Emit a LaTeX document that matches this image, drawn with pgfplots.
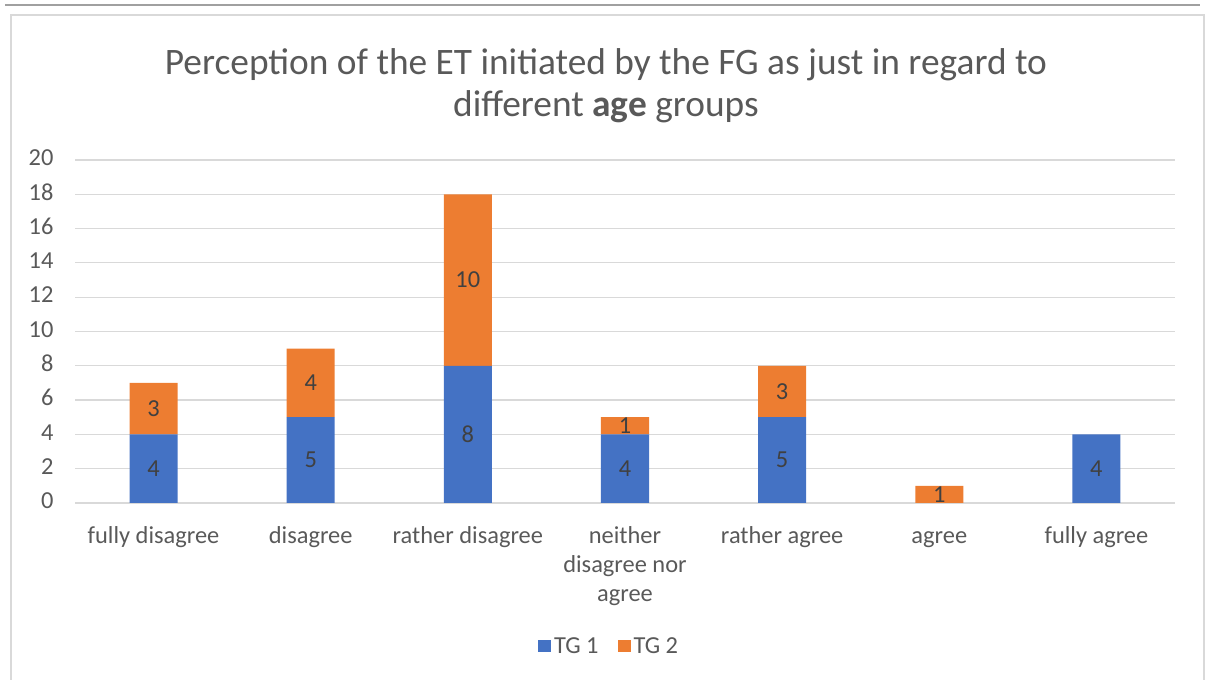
\documentclass[border=0pt]{standalone}
\usepackage{pgfplots}
\pgfplotsset{compat=1.18}
\usepackage{pgfplotstable}
\usepackage{fontspec}
\setmainfont{Carlito}
\definecolor{tgblue}{RGB}{68,114,196}
\definecolor{tgorange}{RGB}{237,125,49}
\definecolor{gridgray}{RGB}{217,217,217}
\definecolor{framegray}{RGB}{160,160,160}
\definecolor{txtgray}{RGB}{89,89,89}
\definecolor{lblgray}{RGB}{64,64,64}
\pgfplotstableread{
x tg1 tg2
0 4 3
1 5 4
2 8 10
3 4 1
4 5 3
5 0 1
6 4 0
}\datatable
\begin{document}
\begin{tikzpicture}
\path[use as bounding box] (0,0) rectangle (1210bp,680bp);
\draw[framegray, line width=2.5bp] (5bp,675bp)--(1200bp,675bp);
\draw[gridgray, line width=1.5bp] (11bp,-10bp) -- (11bp,665bp) -- (1204bp,665bp) -- (1204bp,-10bp);
\begin{axis}[
  at={(75bp,177bp)}, anchor=south west,
  scale only axis, width=1100bp, height=343bp,
  ybar stacked, bar width=48bp,
  xmin=-0.5, xmax=6.5, ymin=0, ymax=20,
  ytick={0,2,...,20},
  xtick=data,
  xticklabels={fully disagree, disagree, rather disagree, {neither\\disagree nor\\agree}, rather agree, agree, fully agree},
  typeset ticklabels with strut,
  axis line style={draw=none},
  ymajorgrids, grid style={gridgray, line width=1.2bp},
  major tick length=0pt,
  /pgf/number format/assume math mode=true,
  yticklabel style={font=\fontsize{24.5}{29}\selectfont, text=txtgray, xshift=-18bp},
  xticklabel style={font=\fontsize{24.5}{29}\selectfont, text=txtgray, align=center, yshift=-17bp},
  title={Perception of the ET initiated by the FG as just in regard to\\different \textbf{age} groups},
  title style={at={(axis description cs:0.4827,1.1997)}, anchor=center, align=center,
    font=\fontsize{37.5}{42}\selectfont, text=txtgray},
  legend style={at={(axis description cs:0.486,-0.417)}, anchor=center, draw=none,
    legend columns=2, font=\fontsize{24.5}{29}\selectfont, text=txtgray,
    nodes={inner sep=3bp},
    /tikz/every even column/.append style={column sep=16bp}},
  legend image code/.code={\fill[#1] (0bp,-6.25bp) rectangle (13bp,6.25bp);},
  nodes near coords={\pgfmathfloatifflags{\pgfplotspointmeta}{0}{}{\pgfmathprintnumber{\pgfplotspointmeta}}},
  nodes near coords style={font=\fontsize{24.5}{29}\selectfont, text=lblgray, anchor=center},
]
\addplot[fill=tgblue, draw=none,
  every node near coord/.append style={anchor=center}]
  table[x=x, y=tg1] {\datatable};
\addplot[fill=tgorange, draw=none,
  every node near coord/.append style={anchor=center}]
  table[x=x, y=tg2] {\datatable};
\legend{TG 1, TG 2}
\end{axis}
\end{tikzpicture}
\end{document}
